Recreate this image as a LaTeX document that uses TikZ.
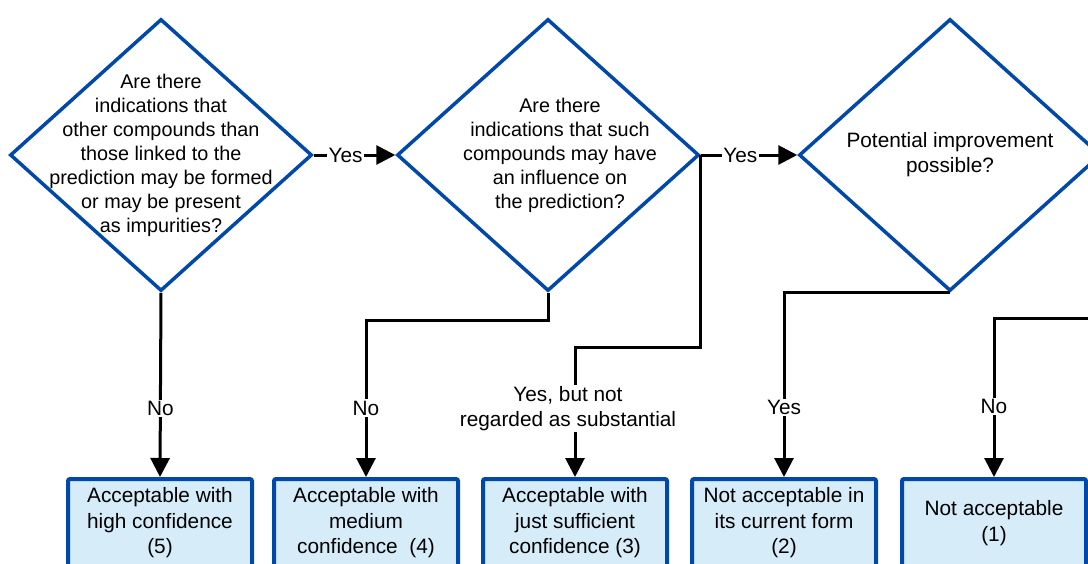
\documentclass[tikz,border=0pt]{standalone}
\usepackage{fontspec}
\setmainfont{Liberation Sans}
\usetikzlibrary{shapes.geometric,arrows.meta}
\definecolor{bord}{RGB}{0,72,170}
\definecolor{boxfill}{RGB}{214,236,249}
\begin{document}
\begin{tikzpicture}[x=1pt,y=-1pt,
  dia/.style={diamond, draw=bord, line width=3.5pt, minimum width=302pt, minimum height=272pt, inner sep=0pt},
  qtext/.style={align=center, font=\fontsize{19.8}{24}\selectfont, inner sep=0pt},
  res/.style={rectangle, draw=bord, fill=boxfill, line width=4pt, rounded corners=2pt, minimum width=184pt, minimum height=88pt, align=center, font=\fontsize{20.8}{25.5}\selectfont, inner sep=0pt},
  conn/.style={line width=3pt, -{Triangle[length=19pt,width=19pt]}},
  lbl/.style={fill=white, inner sep=1.5pt, font=\fontsize{20.8}{25}\selectfont, align=center}]
\useasboundingbox (0,0) rectangle (1088,563);
\clip (0,0) rectangle (1088,563);

% decisions
\node[dia] (d1) at (161,155) {};
\node[dia] (d2) at (548,155) {};
\node[dia] (d3) at (950,155) {};
\node[qtext] (t1) at (d1) {Are there\\indications that\\other compounds than\\those linked to the\\prediction may be formed\\or may be present\\as impurities?};
\node[qtext] (t2) at (560,155) {Are there\\indications that such\\compounds may have\\an influence on\\the prediction?};
\node[qtext, font=\fontsize{20.8}{25}\selectfont] (t3) at (d3) {Potential improvement\\possible?};

% results
\node[res] (b1) at (160,523) {Acceptable with\\high confidence\\(5)};
\node[res] (b2) at (366,523) {Acceptable with\\medium\\confidence\ \ (4)};
\node[res] (b3) at (575,523) {Acceptable with\\just sufficient\\confidence (3)};
\node[res] (b4) at (784,523) {Not acceptable in\\its current form\\(2)};
\node[res] (b5) at (994,523) {Not acceptable\\(1)};

% connectors
\draw[conn] (d1.east) -- node[lbl,pos=0.39]{Yes} (d2.west);
\draw[conn] (d2.east) -- node[lbl,pos=0.41]{Yes} (d3.west);
\draw[conn] (d1.south) -- node[lbl,pos=0.628]{No} (b1.north);
\draw[conn] (d2.south) -- ++(0,28) -| node[lbl,pos=0.78]{No} (b2.north);
\draw[conn] (d2.east) -- ++(0,192) -| node[lbl,pos=0.737,xshift=-7pt]{Yes, but not\\regarded as substantial} (b3.north);
\draw[conn] (d3.south) -| node[lbl,pos=0.811]{Yes} (b4.north);
\draw[conn] (d3.east) -- ++(0,163) -| node[lbl,pos=0.778]{No} (b5.north);
\end{tikzpicture}
\end{document}
